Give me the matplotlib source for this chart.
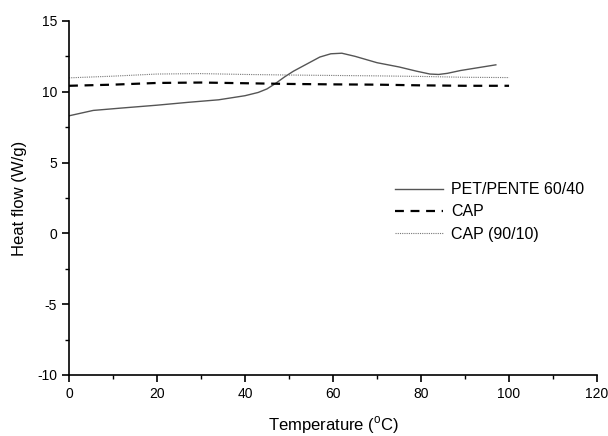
import matplotlib
matplotlib.use('Agg')
import matplotlib.pyplot as plt
from matplotlib.ticker import MultipleLocator

plt.rcParams['font.family'] = ['Liberation Sans', 'DejaVu Sans']
plt.rcParams['mathtext.fontset'] = 'custom'
plt.rcParams['mathtext.rm'] = 'Liberation Sans'
plt.rcParams['axes.unicode_minus'] = False

# PET/PENTE 60/40 curve
pet_t = [0, 5.5, 12, 20, 27, 34, 40, 43, 45, 47, 49, 51, 54, 57, 59.5, 62, 65, 70, 75, 79, 82, 84, 86, 89, 93, 97]
pet_hf = [8.3, 8.68, 8.85, 9.05, 9.25, 9.43, 9.72, 9.95, 10.2, 10.6, 11.05, 11.45, 11.95, 12.45, 12.68, 12.72, 12.5, 12.05, 11.75, 11.45, 11.25, 11.22, 11.3, 11.5, 11.7, 11.9]

# CAP
cap_t = [0, 10, 20, 30, 40, 50, 60, 70, 80, 90, 100]
cap_hf = [10.42, 10.5, 10.62, 10.65, 10.6, 10.55, 10.52, 10.5, 10.45, 10.42, 10.42]

# CAP (90/10)
cap9_t = [0, 10, 20, 30, 40, 50, 60, 70, 80, 90, 100]
cap9_hf = [10.98, 11.1, 11.25, 11.28, 11.22, 11.18, 11.15, 11.12, 11.08, 11.02, 11.0]

fig = plt.figure(figsize=(6.08, 4.36), dpi=100)
ax = fig.add_axes([0.1135, 0.14, 0.8685, 0.812])

ax.plot(pet_t, pet_hf, color='#555555', lw=1.0, label='PET/PENTE 60/40')
ax.plot(cap_t, cap_hf, color='black', lw=1.6, ls=(0, (4, 3)), label='CAP')
ax.plot(cap9_t, cap9_hf, color='#777777', lw=0.8, ls=(0, (1, 1)), label='CAP (90/10)')

ax.set_xlim(0, 120)
ax.set_ylim(-10, 15)
ax.xaxis.set_major_locator(MultipleLocator(20))
ax.xaxis.set_minor_locator(MultipleLocator(10))
ax.yaxis.set_major_locator(MultipleLocator(5))
ax.yaxis.set_minor_locator(MultipleLocator(2.5))
ax.spines['top'].set_visible(False)
ax.spines['right'].set_visible(False)
ax.spines['left'].set_linewidth(1.2)
ax.spines['bottom'].set_linewidth(1.2)
ax.tick_params(which='major', direction='out', length=5, width=1.2, labelsize=10)
ax.tick_params(which='minor', direction='out', length=3, width=1.0)

ax.set_xlabel('Temperature ($^{\\rm o}$C)', fontsize=12, labelpad=10)
ax.set_ylabel('Heat flow (W/g)', fontsize=12, labelpad=7)

ax.legend(loc='upper left', bbox_to_anchor=(0.59, 0.585), frameon=False,
          fontsize=11.5, handlelength=3.0, handletextpad=0.5, labelspacing=0.45)

fig.savefig('out.png', dpi=100)
